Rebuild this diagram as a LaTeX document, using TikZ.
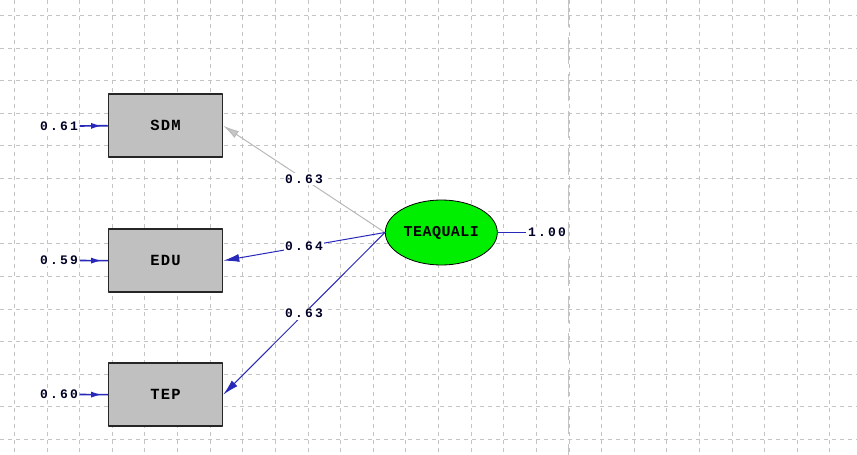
\documentclass[tikz,border=0pt]{standalone}
\usepackage{fontspec}
\setmonofont{Liberation Mono}
\usetikzlibrary{arrows.meta,shapes.geometric,decorations.markings}
\definecolor{pathblue}{RGB}{40,40,185}
\definecolor{gridgray}{RGB}{196,196,196}
\definecolor{boxgray}{RGB}{192,192,192}
\definecolor{latgreen}{RGB}{0,238,0}
\begin{document}
\begin{tikzpicture}[x=1pt, y=-1pt, line join=round, >=Latex]
		\tikzset{obsbox/.style={draw=black!85, line width=1.5pt, fill=boxgray, minimum width=114pt, minimum height=63pt, inner sep=0pt, font=\fontsize{15.5}{15.5}\ttfamily\bfseries\addfontfeature{LetterSpace=8}},
			latnode/.style={ellipse, draw=black, line width=0.8pt, fill=latgreen, minimum width=112pt, minimum height=65pt, inner sep=0pt, font=\fontsize{15}{15}\ttfamily\bfseries\addfontfeature{LetterSpace=3}},
			numlabel/.style={inner sep=1.5pt, fill=white, text=black!85!blue, font=\fontsize{13}{13}\ttfamily\bfseries\addfontfeature{LetterSpace=17}},
			loading/.style={draw=pathblue, line width=1pt, -{Latex[length=16pt,width=8pt]}},
			errarrow/.style={draw=pathblue, line width=1.6pt, postaction={decorate}, decoration={markings, mark=at position 0.8 with {\arrow{Latex[length=11pt,width=6pt]}}}},
			gridline/.style={gridgray, line width=1pt, dash pattern=on 4pt off 4pt}}
		\def \gap{32.62}
		\def \xo{14}
		\def \yo{15}
		\useasboundingbox (0,0) rectangle (857,455);
		\fill[white] (0,0) rectangle (857,455);
		% dotted grid of the drawing area
		\foreach \i in {0,...,25} {
			\pgfmathsetmacro \gx{round(\xo+\i*\gap)+0.5}
			\draw[gridline] (\gx,0)--(\gx,455);
		}
		\foreach \j in {0,...,13} {
			\pgfmathsetmacro \gy{round(\yo+\j*\gap)+0.5}
			\draw[gridline] (0,\gy)--(857,\gy);
		}
		\draw[gridgray, line width=1.4pt, dash pattern=on 27pt off 10pt] (568.5,0)--(568.5,455);
		% observed and latent variables
		\node[obsbox] (sdm) at (165.5,125.7) {SDM};
		\node[obsbox] (edu) at (165.5,260.7) {EDU};
		\node[obsbox] (tep) at (165.5,394.7) {TEP};
		\node[latnode] (teaquali) at (441.3,232.5) {TEAQUALI};
		% error variances
		\node[numlabel] (esdm) at (59,126) {0.61};
		\node[numlabel] (eedu) at (59,260.5) {0.59};
		\node[numlabel] (etep) at (59,394.5) {0.60};
		\node[numlabel] (vlat) at (547,232.5) {1.00};
		\draw[errarrow] (esdm.east)--(sdm.west);
		\draw[errarrow] (eedu.east)--(edu.west);
		\draw[errarrow] (etep.east)--(tep.west);
		\draw[pathblue, line width=1pt] (teaquali.east)--(vlat.west);
		% loadings
		\draw[loading, draw=gray!55, -{Latex[length=16pt,width=8pt,fill=gray!45]}] (teaquali.west)--(sdm.east) node[numlabel, midway] (lsdm) {0.63};
		\draw[loading] (teaquali.west)--(edu.east) node[numlabel, midway] (ledu) {0.64};
		\draw[loading] (teaquali.west)--(tep.east) node[numlabel, midway] (ltep) {0.63};
		\end{tikzpicture}
\end{document}
